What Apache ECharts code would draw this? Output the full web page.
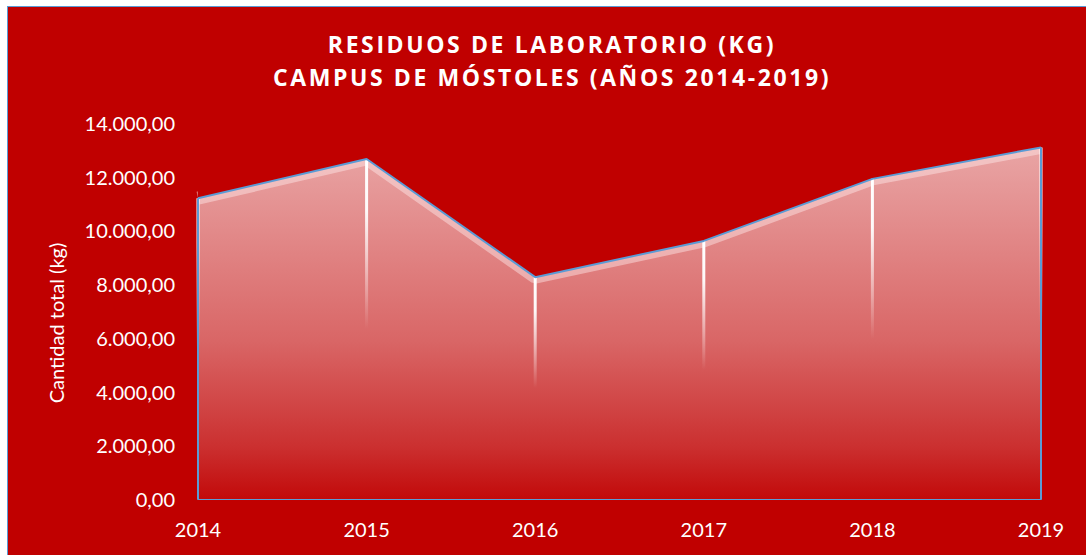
<!DOCTYPE html>
<html>
<head>
<meta charset="utf-8">
<script src="https://cdn.jsdelivr.net/npm/echarts@6/dist/echarts.min.js"></script>
<style>
  html, body { margin: 0; padding: 0; background: #ffffff; }
  #wrap { position: relative; width: 1086px; height: 555px; overflow: hidden; }
  #frame {
    position: absolute; left: 7px; top: 6px; width: 1090px; height: 560px;
    background: #C00000; border-left: 1.5px solid #5B9BD5; border-top: 1.5px solid #5B9BD5;
  }
  #chart { position: absolute; left: 0; top: 0; width: 1086px; height: 555px; }
  /* Excel-style spaced title */
  #chart text[style*="bold"] { letter-spacing: 2.6px; }
</style>
</head>
<body>
<div id="wrap">
  <div id="frame"></div>
  <div id="chart"></div>
</div>
<script>
const years = ['2014', '2015', '2016', '2017', '2018', '2019'];
const residuos = [11200, 12660, 8260, 9610, 11920, 13090];
const yMin = 0;
const yMax = 14000;
const yStep = 2000;

const RED = '#C00000';
const BLUE = '#5B9BD5';
const FONT = 'Lato, "Open Sans", sans-serif';

function fmtEs(v) {
  const s = Math.round(v).toString().replace(/\B(?=(\d{3})+(?!\d))/g, '.');
  return s + ',00';
}

const chart = echarts.init(document.getElementById('chart'), null, { renderer: 'svg' });

chart.setOption({
  backgroundColor: 'transparent',
  animation: false,
  title: {
    text: 'RESIDUOS DE LABORATORIO (KG)\nCAMPUS DE MÓSTOLES (AÑOS 2014-2019)',
    left: 547,
    top: 22,
    textAlign: 'center',
    textStyle: {
      color: '#ffffff',
      fontFamily: '"Open Sans", sans-serif',
      fontWeight: 'bold',
      fontSize: 23,
      lineHeight: 33,
    },
  },
  grid: { left: 198, right: 45, top: 123, bottom: 56 },
  xAxis: {
    type: 'category',
    data: years,
    boundaryGap: false,
    axisLine: { show: true, lineStyle: { color: BLUE, width: 2 } },
    axisTick: { show: false },
    axisLabel: { color: '#ffffff', fontFamily: FONT, fontSize: 20, margin: 20 },
  },
  yAxis: {
    type: 'value',
    min: yMin,
    max: yMax,
    interval: yStep,
    name: 'Cantidad total (kg)',
    nameLocation: 'middle',
    nameRotate: 90,
    nameGap: 132,
    nameTextStyle: { color: '#ffffff', fontFamily: FONT, fontSize: 20, padding: [0, 24, 0, 0] },
    axisLine: { show: false },
    axisTick: { show: false },
    splitLine: { show: false },
    axisLabel: { color: '#ffffff', fontFamily: FONT, fontSize: 20, margin: 23, formatter: fmtEs },
  },
  series: [
    {
      name: 'fill',
      type: 'line',
      data: residuos,
      symbol: 'none',
      z: 1,
      lineStyle: { width: 0 },
      areaStyle: {
        opacity: 1,
        color: new echarts.graphic.LinearGradient(0, 0, 0, 1, [
          { offset: 0, color: '#E9A5A5' },
          { offset: 0.55, color: '#D96666' },
          { offset: 0.85, color: '#CB3030' },
          { offset: 1, color: '#C20A0A' },
        ]),
      },
      markLine: {
        silent: true,
        symbol: 'none',
        label: { show: false },
        lineStyle: { color: BLUE, width: 2, type: 'solid' },
        data: [
          [{ coord: [years[0], residuos[0]] }, { coord: [years[0], 0] }],
          [{ coord: [years[5], residuos[5]] }, { coord: [years[5], 0] }],
        ],
      },
    },
    {
      name: 'band',
      type: 'line',
      data: residuos,
      symbol: 'none',
      z: 2,
      lineStyle: { width: 13, color: 'rgba(255,235,235,0.45)' },
    },
    {
      name: 'cover',
      type: 'line',
      data: residuos,
      symbol: 'none',
      z: 3,
      lineStyle: { width: 0 },
      areaStyle: { origin: 'end', color: RED, opacity: 1 },
    },
    {
      name: 'drops',
      type: 'bar',
      data: residuos,
      barWidth: 3,
      z: 4,
      itemStyle: {
        color: new echarts.graphic.LinearGradient(0, 0, 0, 1, [
          { offset: 0, color: 'rgba(255,255,255,1)' },
          { offset: 0.15, color: 'rgba(255,255,255,0.95)' },
          { offset: 0.5, color: 'rgba(255,255,255,0)' },
          { offset: 1, color: 'rgba(255,255,255,0)' },
        ]),
      },
    },
    {
      name: 'outline',
      type: 'line',
      data: residuos,
      symbol: 'none',
      z: 5,
      lineStyle: { width: 2, color: BLUE },
    },
  ],
});
</script>
</body>
</html>
